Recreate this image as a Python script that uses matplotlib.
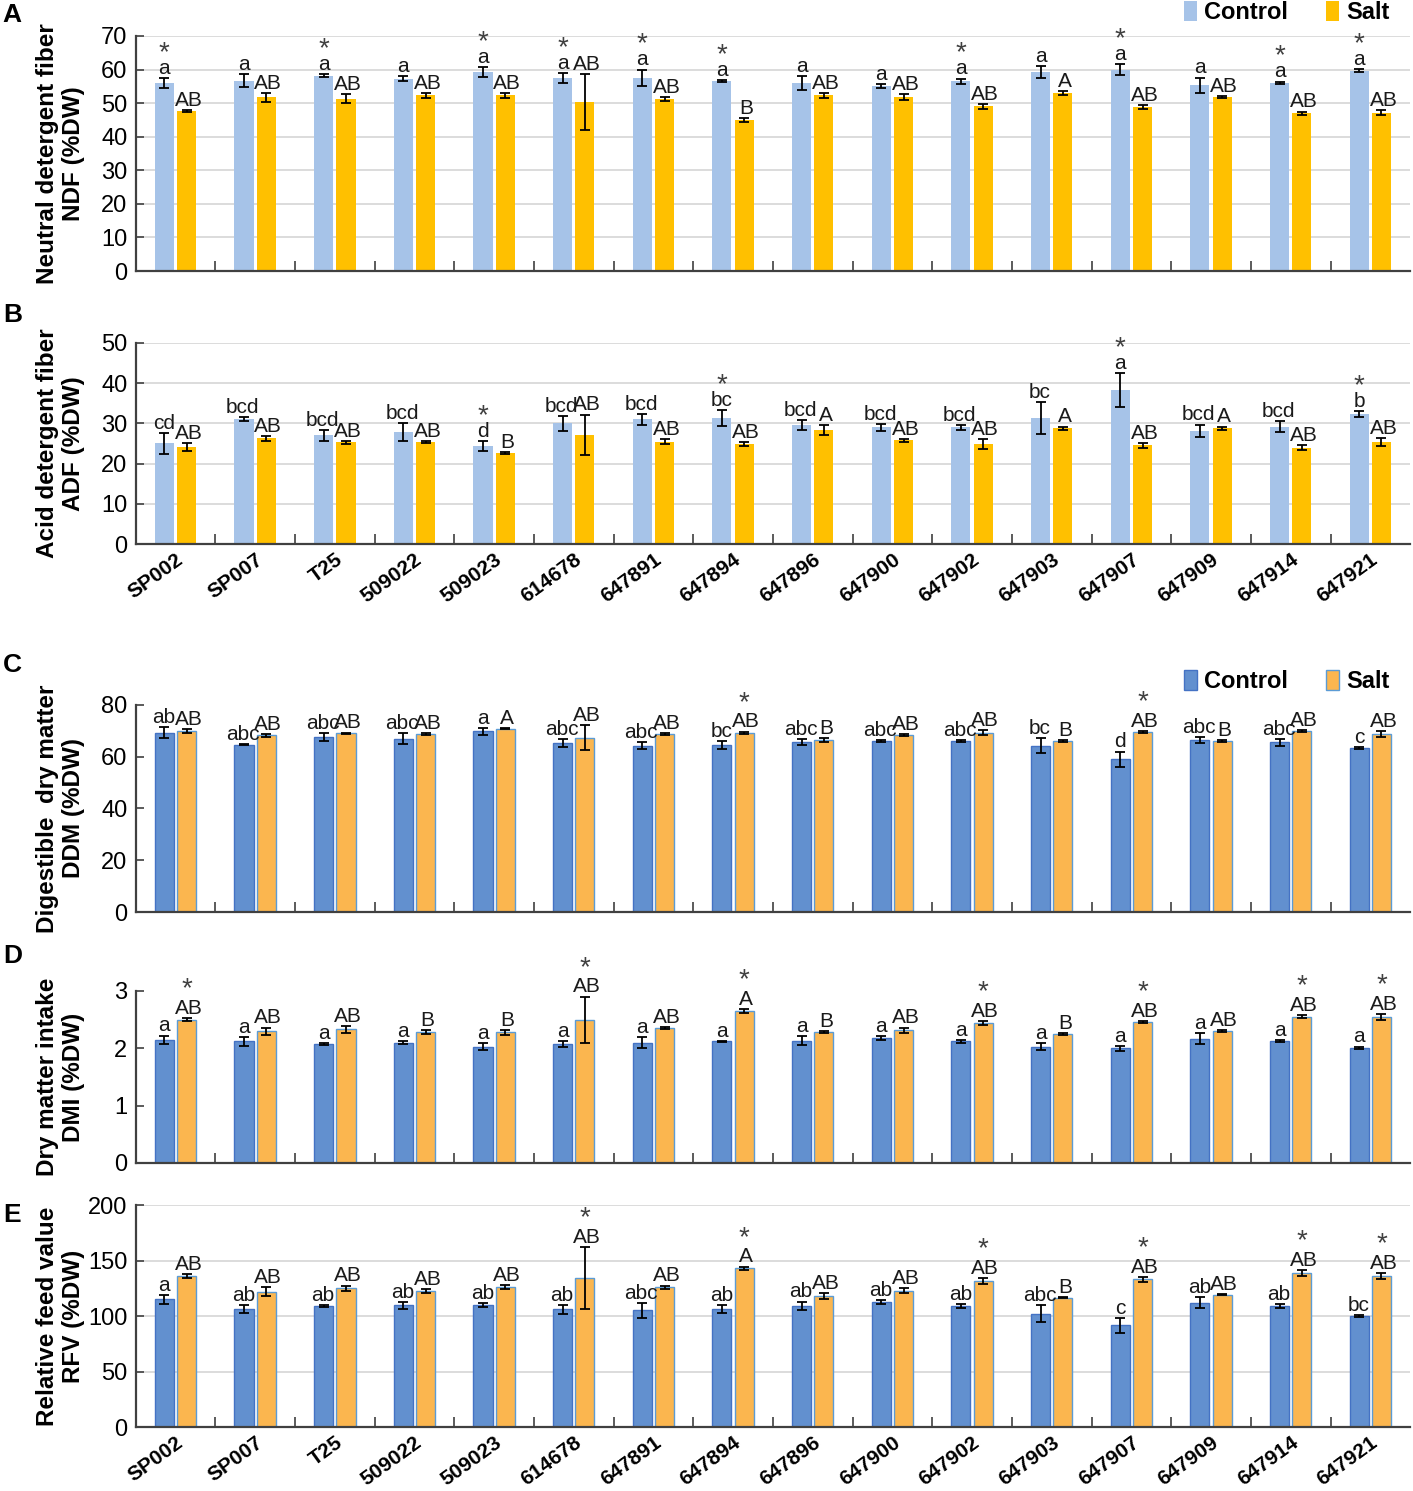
import numpy as np
import matplotlib
matplotlib.use("Agg")
from matplotlib import pyplot as plt

plt.rcParams['font.family'] = ['Liberation Sans Narrow', 'Liberation Sans', 'DejaVu Sans']

lines = ["SP002", "SP007", "T25", "509022", "509023", "614678", "647891", "647894",
         "647896", "647900", "647902", "647903", "647907", "647909", "647914", "647921"]

# A - neutral detergent fiber
ndf_ctrl = [56.0, 56.7, 58.2, 57.3, 59.2, 57.5, 57.5, 56.5, 56.0, 55.0, 56.5, 59.2, 60.0, 55.3, 56.0, 59.7]
ndf_ctrl_err = [1.5, 2.0, 0.5, 0.8, 1.5, 1.5, 2.5, 0.3, 2.0, 0.6, 0.8, 1.8, 1.5, 2.3, 0.4, 0.4]
ndf_salt = [47.7, 51.7, 51.3, 52.3, 52.3, 50.3, 51.2, 45.0, 52.3, 51.8, 49.0, 53.0, 48.8, 51.8, 47.0, 47.2]
ndf_salt_err = [0.3, 1.3, 1.3, 0.8, 0.8, 8.3, 0.5, 0.6, 0.8, 0.8, 0.8, 0.5, 0.5, 0.2, 0.5, 0.8]
ndf_ctrl_lab = ["a"] * 16
ndf_salt_lab = ["AB"] * 7 + ["B"] + ["AB"] * 3 + ["A"] + ["AB"] * 4
ndf_star = [1, 0, 1, 0, 1, 1, 1, 1, 0, 0, 1, 0, 1, 0, 1, 1]

# B - acid detergent fiber
adf_ctrl = [25.0, 31.0, 27.0, 27.8, 24.4, 30.0, 31.0, 31.3, 29.6, 29.0, 29.0, 31.3, 38.3, 28.2, 29.2, 32.3]
adf_ctrl_err = [2.5, 0.5, 1.3, 2.2, 1.3, 1.8, 1.3, 2.0, 1.3, 0.8, 0.6, 4.0, 4.3, 1.5, 1.3, 0.7]
adf_salt = [24.1, 26.3, 25.3, 25.4, 22.7, 27.2, 25.4, 24.9, 28.3, 25.8, 24.9, 28.8, 24.6, 28.8, 24.0, 25.3]
adf_salt_err = [1.0, 0.6, 0.4, 0.3, 0.2, 5.0, 0.6, 0.5, 1.2, 0.4, 1.3, 0.4, 0.6, 0.4, 0.6, 1.0]
adf_ctrl_lab = ["cd", "bcd", "bcd", "bcd", "d", "bcd", "bcd", "bc", "bcd", "bcd", "bcd", "bc",
                "a", "bcd", "bcd", "b"]
adf_salt_lab = ["AB"] * 4 + ["B"] + ["AB"] * 3 + ["A", "AB", "AB", "A", "AB", "A", "AB", "AB"]
adf_star = [0, 0, 0, 0, 1, 0, 0, 1, 0, 0, 0, 0, 1, 0, 0, 1]

# C - digestible dry matter
ddm_ctrl = [69.3, 64.7, 67.5, 67.0, 69.8, 65.2, 64.3, 64.5, 65.7, 66.0, 66.0, 64.3, 59.0, 66.5, 65.5, 63.3]
ddm_ctrl_err = [2.0, 0.3, 1.5, 2.0, 1.3, 1.5, 1.3, 1.5, 1.0, 0.5, 0.4, 3.0, 3.0, 1.2, 1.3, 0.5]
ddm_salt = [69.8, 68.2, 69.0, 68.8, 70.8, 67.3, 68.7, 69.2, 66.5, 68.4, 69.2, 66.0, 69.5, 66.0, 70.0, 68.8]
ddm_salt_err = [0.8, 0.5, 0.3, 0.3, 0.2, 4.8, 0.5, 0.5, 0.8, 0.3, 1.0, 0.3, 0.5, 0.3, 0.4, 1.0]
ddm_ctrl_lab = ["ab", "abc", "abc", "abc", "a", "abc", "abc", "bc", "abc", "abc", "abc", "bc",
                "d", "abc", "abc", "c"]
ddm_salt_lab = ["AB"] * 4 + ["A"] + ["AB"] * 3 + ["B", "AB", "AB", "B", "AB", "B", "AB", "AB"]
ddm_star = [0, 0, 0, 0, 0, 0, 0, 1, 0, 0, 0, 0, 1, 0, 0, 0]

# D - dry matter intake
dmi_ctrl = [2.15, 2.12, 2.07, 2.10, 2.03, 2.08, 2.10, 2.12, 2.13, 2.18, 2.12, 2.03, 2.00, 2.17, 2.13, 2.01]
dmi_ctrl_err = [0.07, 0.08, 0.02, 0.02, 0.06, 0.05, 0.10, 0.01, 0.08, 0.03, 0.03, 0.06, 0.04, 0.10, 0.02, 0.02]
dmi_salt = [2.50, 2.30, 2.33, 2.28, 2.28, 2.50, 2.35, 2.65, 2.28, 2.31, 2.44, 2.25, 2.46, 2.30, 2.55, 2.55]
dmi_salt_err = [0.02, 0.06, 0.06, 0.03, 0.04, 0.40, 0.02, 0.03, 0.02, 0.05, 0.04, 0.02, 0.02, 0.01, 0.03, 0.05]
dmi_ctrl_lab = ["a"] * 16
dmi_salt_lab = ["AB", "AB", "AB", "B", "B", "AB", "AB", "A", "B", "AB", "AB", "B", "AB", "AB", "AB", "AB"]
dmi_star = [1, 0, 0, 0, 0, 1, 0, 1, 0, 0, 1, 0, 1, 0, 1, 1]

# E - relative feed value
rfv_ctrl = [115, 106, 109, 109.5, 110, 106, 105, 106, 109, 112.5, 109, 102, 91.5, 112, 109, 100]
rfv_ctrl_err = [4, 3.5, 1, 3, 1.5, 4, 7, 3.5, 4, 2, 1.5, 7.5, 6.5, 5, 2, 0.5]
rfv_salt = [136, 122, 125, 122.5, 126, 134, 126, 143, 118, 123, 131.5, 116.5, 133, 119, 139, 136]
rfv_salt_err = [2, 4, 2.5, 2, 2, 28, 1.5, 1.5, 2.5, 2, 3, 0.5, 2, 0.5, 2.5, 3]
rfv_ctrl_lab = ["a", "ab", "ab", "ab", "ab", "ab", "abc", "ab", "ab", "ab", "ab", "abc",
                "c", "ab", "ab", "bc"]
rfv_salt_lab = ["AB"] * 7 + ["A"] + ["AB"] * 3 + ["B"] + ["AB"] * 4
rfv_star = [0, 0, 0, 0, 0, 1, 0, 1, 0, 0, 1, 0, 1, 0, 1, 1]

light = ("#a6c3e8", "#ffc000")
dark = ("#6290cf", "#fbb64f")

fig = plt.figure(figsize=(14.13, 14.91), dpi=100)
L, W = 0.096, 0.902
ax_a = fig.add_axes([L, 0.8182, W, 0.1577])
ax_b = fig.add_axes([L, 0.6351, W, 0.1349])
ax_c = fig.add_axes([L, 0.3883, W, 0.1389])
ax_d = fig.add_axes([L, 0.2200, W, 0.1154])
ax_e = fig.add_axes([L, 0.0429, W, 0.1489])

x = np.arange(len(lines))
LAB_FS = 15


def put_label(ax, xpos, top, text, star, dx):
    ax.annotate(text, (xpos, top), xytext=(dx, 3), textcoords="offset points",
                ha="center", va="baseline", fontsize=LAB_FS, color="#1a1a1a")
    if star:
        up = 3 + (0.85 if text[0].isupper() else 0.66) * LAB_FS
        ax.annotate("*", (xpos, top), xytext=(0, up), textcoords="offset points",
                    ha="center", va="baseline", fontsize=LAB_FS + 5, color="#404040",
                    family="Liberation Sans")


def panel(ax, ctrl, ce, salt, se, clab, slab, stars, star_salt, cols, ymax, ystep,
          ylabel, grid, edges):
    ek = dict(ecolor="black", elinewidth=1.3, capsize=3.5, capthick=1.3)
    ec = ("#4472c4", "#5b9bd5") if edges else ("none", "none")
    ax.bar(x - 0.14, ctrl, 0.24, yerr=ce, color=cols[0], edgecolor=ec[0], linewidth=1,
           error_kw=ek, label="Control", zorder=2)
    ax.bar(x + 0.14, salt, 0.24, yerr=se, color=cols[1], edgecolor=ec[1], linewidth=1,
           error_kw=ek, label="Salt", zorder=2)
    for i in x:
        put_label(ax, i - 0.14, ctrl[i] + ce[i], clab[i], stars[i] and not star_salt,
                  -0.4 * (len(clab[i]) - 1))
        put_label(ax, i + 0.14, salt[i] + se[i], slab[i], stars[i] and star_salt, 1.5)
    ax.set_xlim(-0.5, len(lines) - 0.5)
    ax.set_ylim(0, ymax)
    ax.set_yticks(np.arange(0, ymax + ystep / 2, ystep))
    ax.set_xticks(x)
    ax.set_xticks(np.arange(0.5, len(lines) - 0.5), minor=True)
    ax.tick_params(axis="x", which="major", length=0)
    ax.tick_params(axis="x", which="minor", direction="in", length=7, width=1.2, color="#404040")
    ax.tick_params(axis="y", direction="in", length=6, width=1.2, color="#404040",
                   labelsize=17, pad=6)
    if grid:
        ax.yaxis.grid(True, color="#d9d9d9", linewidth=1.3, zorder=0)
    ax.set_axisbelow(True)
    for s in ("top", "right"):
        ax.spines[s].set_visible(False)
    for s in ("left", "bottom"):
        ax.spines[s].set_color("#404040")
        ax.spines[s].set_linewidth(1.6)
    ax.set_ylabel(ylabel, fontsize=17.5, fontweight="bold", family="Liberation Sans",
                  linespacing=1.15)
    ax.yaxis.set_label_coords(-0.04, 0.5)
    ax.set_xticklabels([])


panel(ax_a, ndf_ctrl, ndf_ctrl_err, ndf_salt, ndf_salt_err, ndf_ctrl_lab, ndf_salt_lab,
      ndf_star, False, light, 70, 10, "Neutral detergent fiber\nNDF (%DW)", True, False)
panel(ax_b, adf_ctrl, adf_ctrl_err, adf_salt, adf_salt_err, adf_ctrl_lab, adf_salt_lab,
      adf_star, False, light, 50, 10, "Acid detergent fiber\nADF (%DW)", True, False)
panel(ax_c, ddm_ctrl, ddm_ctrl_err, ddm_salt, ddm_salt_err, ddm_ctrl_lab, ddm_salt_lab,
      ddm_star, True, dark, 80, 20, "Digestible  dry matter\nDDM (%DW)", False, True)
panel(ax_d, dmi_ctrl, dmi_ctrl_err, dmi_salt, dmi_salt_err, dmi_ctrl_lab, dmi_salt_lab,
      dmi_star, True, dark, 3, 1, "Dry matter intake\nDMI (%DW)", False, True)
panel(ax_e, rfv_ctrl, rfv_ctrl_err, rfv_salt, rfv_salt_err, rfv_ctrl_lab, rfv_salt_lab,
      rfv_star, True, dark, 200, 50, "Relative feed value\nRFV (%DW)", True, True)

for ax in (ax_b, ax_e):
    ax.set_xticklabels(lines, rotation=36, ha="right", rotation_mode="anchor",
                       fontsize=15, fontweight="bold", family="Liberation Sans")
    ax.tick_params(axis="x", which="major", pad=4)
    for t in ax.get_xticklabels():
        t.set_x(t.get_position()[0] + 0.15)

for ax in (ax_a, ax_c):
    ax.legend(loc="lower right", bbox_to_anchor=(0.993, 1.0), ncol=2, frameon=False,
              handlelength=0.55, handleheight=0.9, handletextpad=0.3, columnspacing=1.6,
              borderaxespad=0.1, prop=dict(family="Liberation Sans", weight="bold", size=17))

for lab, yy in zip("ABCDE", (0.990, 0.789, 0.554, 0.359, 0.185)):
    fig.text(0.002, yy, lab, fontsize=19, fontweight="bold", family="Liberation Sans",
             va="center", ha="left")

fig.savefig("out.png", dpi=100)
